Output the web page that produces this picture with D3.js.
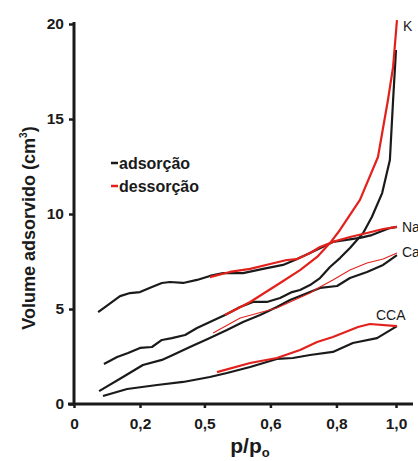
<!DOCTYPE html>
<html>
<head>
<meta charset="utf-8">
<script src="https://cdn.jsdelivr.net/npm/d3@7"></script>
<style>
  body { margin: 0; background: #fff; }
  svg text { font-family: "Liberation Sans", Arial, sans-serif; fill: #1a1a1a; }
</style>
</head>
<body>
<svg id="chart" width="418" height="461"></svg>
<script>
var kAdsX = [0.093, 0.134, 0.168, 0.205, 0.242, 0.273, 0.304, 0.345, 0.382, 0.422, 0.469, 0.516, 0.556, 0.599, 0.640, 0.677, 0.702, 0.733, 0.764, 0.795, 0.826, 0.857, 0.898, 0.925, 0.957, 0.981, 0.991, 1.0];
var kAdsY = [2.11, 2.47, 2.68, 2.95, 3.0, 3.37, 3.47, 3.63, 4.0, 4.32, 4.68, 5.11, 5.37, 5.37, 5.58, 5.89, 6.0, 6.26, 6.63, 7.21, 7.68, 8.21, 9.0, 9.84, 11.1, 12.84, 16.0, 18.63];
var kDesX = [0.469, 0.547, 0.640, 0.702, 0.755, 0.795, 0.826, 0.857, 0.888, 0.944, 0.975, 0.991, 1.003];
var kDesY = [4.68, 5.37, 6.37, 7.05, 7.74, 8.47, 9.16, 9.95, 10.74, 13.0, 16.0, 17.74, 20.2];

var naAdsX = [0.075, 0.143, 0.174, 0.205, 0.242, 0.273, 0.298, 0.339, 0.382, 0.422, 0.463, 0.525, 0.587, 0.649, 0.686, 0.733, 0.804, 0.888, 0.925, 0.981, 1.003];
var naAdsY = [4.84, 5.68, 5.84, 5.89, 6.16, 6.37, 6.42, 6.37, 6.53, 6.74, 6.89, 6.89, 7.11, 7.32, 7.58, 7.95, 8.53, 8.74, 8.89, 9.26, 9.32];
var naDesX = [0.422, 0.484, 0.547, 0.609, 0.661, 0.693, 0.733, 0.764, 0.804, 0.857, 0.910, 0.960, 1.003];
var naDesY = [6.68, 6.95, 7.11, 7.37, 7.58, 7.63, 7.95, 8.26, 8.53, 8.79, 9.0, 9.21, 9.32];

var caAdsX = [0.078, 0.152, 0.214, 0.273, 0.307, 0.360, 0.422, 0.475, 0.525, 0.578, 0.630, 0.671, 0.733, 0.764, 0.817, 0.857, 0.910, 0.960, 1.003];
var caAdsY = [0.68, 1.42, 2.05, 2.32, 2.58, 3.0, 3.47, 3.89, 4.32, 4.68, 5.11, 5.47, 5.89, 6.11, 6.21, 6.63, 6.95, 7.32, 7.84];
var caDesX = [0.432, 0.516, 0.630, 0.733, 0.764, 0.804, 0.857, 0.910, 0.960, 1.003];
var caDesY = [3.74, 4.53, 5.05, 5.84, 6.16, 6.53, 7.05, 7.42, 7.63, 7.95];

var ccaAdsX = [0.09, 0.165, 0.258, 0.339, 0.422, 0.475, 0.547, 0.630, 0.680, 0.733, 0.804, 0.866, 0.941, 1.003];
var ccaAdsY = [0.42, 0.79, 1.0, 1.16, 1.42, 1.63, 1.95, 2.37, 2.42, 2.58, 2.74, 3.21, 3.47, 4.1];
var ccaDesX = [0.444, 0.547, 0.630, 0.702, 0.755, 0.804, 0.882, 0.919, 1.003];
var ccaDesY = [1.68, 2.16, 2.42, 2.84, 3.26, 3.53, 4.05, 4.21, 4.1];

var xTickValues = [0, 0.205, 0.405, 0.61, 0.815, 1.0];
var xTickLabels = ["0", "0,2", "0,5", "0,6", "0,8", "1,0"];
var yTickValues = [0, 5, 10, 15, 20];

var black = "#1a1a1a";
var red = "#e3211c";

var svg = d3.select("#chart");

var x = d3.scaleLinear().domain([0, 1]).range([74, 396]);
var y = d3.scaleLinear().domain([0, 20]).range([404, 24]);

function zip(xs, ys){
	return xs.map(function(v, i){ return [v, ys[i]]; });
}

var line = d3.line()
	.x(function(d){ return x(d[0]); })
	.y(function(d){ return y(d[1]); });

// axes
var xAxis = svg.append("g")
	.attr("transform", "translate(0," + y(0) + ")")
	.call(d3.axisBottom(x).tickValues(xTickValues).tickSize(4).tickPadding(10)
		.tickFormat(function(d, i){ return xTickLabels[i]; }));
xAxis.select(".domain").remove();
xAxis.selectAll(".tick line").attr("stroke", black).attr("stroke-width", 2.5);
xAxis.selectAll(".tick text")
	.attr("font-size", 15.5).attr("font-weight", "bold").attr("fill", black)
	.style("font-family", "'Liberation Sans', Arial, sans-serif");

var yAxis = svg.append("g")
	.attr("transform", "translate(" + x(0) + ",0)")
	.call(d3.axisLeft(y).tickValues(yTickValues).tickSize(5).tickPadding(5));
yAxis.select(".domain").remove();
yAxis.selectAll(".tick line").attr("stroke", black).attr("stroke-width", 2.5);
yAxis.selectAll(".tick text")
	.attr("font-size", 15.5).attr("font-weight", "bold").attr("fill", black)
	.style("font-family", "'Liberation Sans', Arial, sans-serif");

svg.append("line")
	.attr("x1", 68).attr("x2", 413)
	.attr("y1", y(0)).attr("y2", y(0))
	.attr("stroke", black).attr("stroke-width", 3);
svg.append("line")
	.attr("x1", x(0)).attr("x2", x(0))
	.attr("y1", 22).attr("y2", y(0))
	.attr("stroke", black).attr("stroke-width", 3);

// isotherm curves
var curves = [
	{xs: naAdsX, ys: naAdsY, color: black, w: 2.2},
	{xs: kAdsX, ys: kAdsY, color: black, w: 2.2},
	{xs: caAdsX, ys: caAdsY, color: black, w: 2.2},
	{xs: ccaAdsX, ys: ccaAdsY, color: black, w: 2.2},
	{xs: naDesX, ys: naDesY, color: red, w: 2.2},
	{xs: kDesX, ys: kDesY, color: red, w: 2.2},
	{xs: caDesX, ys: caDesY, color: red, w: 1.1},
	{xs: ccaDesX, ys: ccaDesY, color: red, w: 2.2}
];

curves.forEach(function(c){
	svg.append("path")
		.datum(zip(c.xs, c.ys))
		.attr("d", line)
		.attr("fill", "none")
		.attr("stroke", c.color)
		.attr("stroke-width", c.w)
		.attr("stroke-linejoin", "round");
});

// sample names at the curve ends (Na and Ca run past the edge, as in the original)
var names = [
	{t: "K", px: 403, py: 31},
	{t: "Na", px: 402, py: 232},
	{t: "Ca", px: 402, py: 257},
	{t: "CCA", px: 376, py: 320}
];
names.forEach(function(n){
	svg.append("text").text(n.t)
		.attr("x", n.px).attr("y", n.py)
		.attr("font-size", 14);
});

// legend
var legend = [["adsorção", black], ["dessorção", red]];
legend.forEach(function(l, i){
	svg.append("line")
		.attr("x1", 111).attr("x2", 118)
		.attr("y1", 163 + i * 23).attr("y2", 163 + i * 23)
		.attr("stroke", l[1]).attr("stroke-width", 2.5);
	svg.append("text").text(l[0])
		.attr("x", 119).attr("y", 169 + i * 23)
		.attr("font-size", 16).attr("font-weight", "bold");
});

// axis titles
var yTitle = svg.append("text")
	.attr("transform", "translate(35,228) rotate(-90)")
	.attr("text-anchor", "middle")
	.attr("font-size", 18).attr("font-weight", "bold");
yTitle.append("tspan").text("Volume adsorvido (cm");
yTitle.append("tspan").text("3").attr("font-size", 10).attr("dy", -8);
yTitle.append("tspan").text(")").attr("dy", 8);

var xTitle = svg.append("text")
	.attr("x", 250).attr("y", 453)
	.attr("text-anchor", "middle")
	.attr("font-size", 21).attr("font-weight", "bold");
xTitle.append("tspan").text("p/p");
xTitle.append("tspan").text("o").attr("font-size", 13).attr("dy", 4);
</script>
</body>
</html>
